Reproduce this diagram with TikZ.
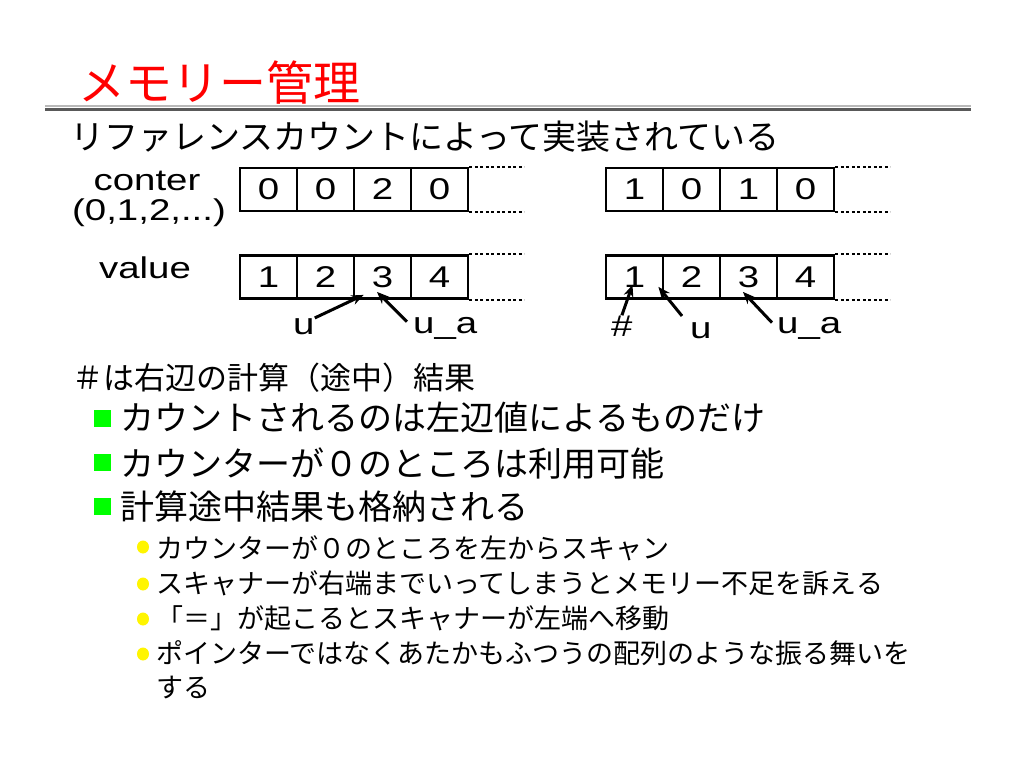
\documentclass[tikz,border=0pt]{standalone}
\usepackage{fontspec}
\setmainfont{Liberation Sans}[FakeStretch=1.28]
\newfontfamily\jp{Noto Sans CJK JP}
\usetikzlibrary{arrows.meta,calc,shapes.geometric}

\tikzset{
    cell/.style={draw, line width=2.8pt, minimum width=57pt, minimum height=43pt, inner sep=0pt, font=\fontsize{30}{30}\selectfont},
    lab/.style={inner sep=0pt, font=\fontsize{30}{30}\selectfont},
    jtxt/.style={inner sep=0pt, anchor=west, font=\jp\fontsize{34}{34}\selectfont},
    subtxt/.style={inner sep=0pt, anchor=west, font=\jp\fontsize{27}{27}\selectfont},
    dotline/.style={line width=2pt, dash pattern=on 3pt off 2.5pt},
    ptr/.style={line width=3pt, -{Stealth[length=12pt,width=10pt]}},
    gbullet/.style={fill={rgb,255:red,0;green,255;blue,0}, minimum size=17pt, inner sep=0pt},
    ybullet/.style={ellipse, fill={rgb,255:red,255;green,245;blue,0}, minimum width=12pt, minimum height=13pt, inner sep=0pt}
}

\begin{document}
\begin{tikzpicture}[x=1pt, y=-1pt]
    \useasboundingbox[fill=white] (0,0) rectangle (1024,768);

    % Title and rule
    \node[jtxt, text=red, font=\jp\fontsize{47}{47}\selectfont] (title) at (78,83) {メモリー管理};
    \draw[line width=2pt, gray!55] (45,106) -- (971,106);
    \draw[line width=3pt, black!65] (45,109.5) -- (971,109.5);

    \node[jtxt] (intro) at (70,137) {リファレンスカウントによって実装されている};

    % Row labels
    \node[lab] (conter) at (147,181) {conter};
    \node[lab] (range) at (149,213) {(0,1,2,...)};
    \node[lab] (value) at (145,268) {value};

    % Counter arrays
    \foreach \v [count=\i] in {0,0,2,0}
        \node[cell] (cl\i) at (240+28.5+57*\i-57, 189.5) {\v};
    \foreach \v [count=\i] in {1,0,1,0}
        \node[cell] (cr\i) at (606+28.5+57*\i-57, 189.5) {\v};

    % Value arrays
    \foreach \v [count=\i] in {1,2,3,4}
        \node[cell] (vl\i) at (240+28.5+57*\i-57, 277) {\v};
    \foreach \v [count=\i] in {1,2,3,4}
        \node[cell] (vr\i) at (606+28.5+57*\i-57, 277) {\v};

    % Continuation
    \foreach \a in {cl4,cr4,vl4,vr4} {
        \draw[dotline] (\a.north east) -- ++(55,0);
        \draw[dotline] (\a.south east) -- ++(55,0);
    }

    % Pointers, left
    \node[lab, anchor=base west] (ul) at (293,334) {u};
    \node[lab, anchor=base west] (ual) at (413,333) {u\_a};
    \draw[ptr] (ul.north east) -- ($(vl3.south west)+(11,-5)$);
    \draw[ptr] ($(ual.north west)+(-6,5)$) -- ($(vl3.south)+(-5.5,-8)$);

    % Pointers, right
    \node[lab, anchor=base west] (hash) at (611,336) {\#};
    \node[lab, anchor=base west] (ur) at (690,338) {u};
    \node[lab, anchor=base west] (uar) at (777,333) {u\_a};
    \draw[ptr] (hash.north) -- ($(vr1.south)+(-2,-15)$);
    \draw[ptr] ($(ur.north west)+(-8,-6)$) -- ($(vr1.south east)+(-6,-13)$);
    \draw[ptr] ($(uar.north west)+(-5,6)$) -- ($(vr3.south)+(-5.5,-8)$);

    % Notes
    \node[jtxt, font=\jp\fontsize{31}{31}\selectfont] (note) at (72,378) {＃は右辺の計算（途中）結果};

    \node[gbullet] (b1) at (102.5,418) {};
    \node[gbullet] (b2) at (102.5,462) {};
    \node[gbullet] (b3) at (102.5,506) {};
    \node[jtxt] (t1) at (120,418) {カウントされるのは左辺値によるものだけ};
    \node[jtxt] (t2) at (120,464) {カウンターが０のところは利用可能};
    \node[jtxt] (t3) at (120,507) {計算途中結果も格納される};

    \node[ybullet] (s1) at (143,547) {};
    \node[ybullet] (s2) at (143,584) {};
    \node[ybullet] (s3) at (143,619) {};
    \node[ybullet] (s4) at (143,654) {};
    \node[subtxt] (u1) at (156,548) {カウンターが０のところを左からスキャン};
    \node[subtxt] (u2) at (156,583) {スキャナーが右端までいってしまうとメモリー不足を訴える};
    \node[subtxt] (u3) at (156,618) {「＝」が起こるとスキャナーが左端へ移動};
    \node[subtxt] (u4) at (156,653) {ポインターではなくあたかもふつうの配列のような振る舞いを};
    \node[subtxt] (u5) at (156,688) {する};
\end{tikzpicture}
\end{document}
